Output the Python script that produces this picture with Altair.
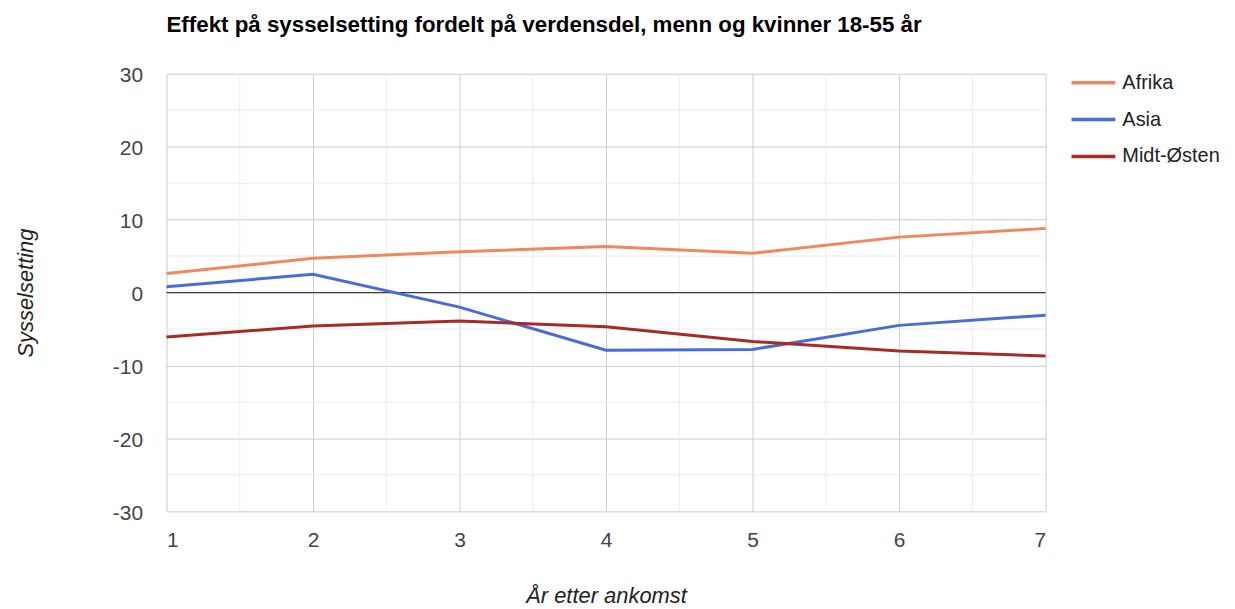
import altair as alt
import pandas as pd

years = [1, 2, 3, 4, 5, 6, 7]
series_names = ["Afrika", "Asia", "Midt-Østen"]
afrika = [2.6, 4.7, 5.6, 6.3, 5.4, 7.6, 8.8]
asia = [0.8, 2.5, -2.0, -7.9, -7.8, -4.5, -3.1]
midt_osten = [-6.1, -4.6, -3.9, -4.7, -6.7, -8.0, -8.7]
colors = ["#F0875E", "#4A6BD8", "#A62B26"]

y_ticks = [-30, -20, -10, 0, 10, 20, 30]
x_minor = [1.5, 2.5, 3.5, 4.5, 5.5, 6.5]
y_minor = [-25, -15, -5, 5, 15, 25]

FONT = "Liberation Sans"

rows = []
for name, vals in zip(series_names, [afrika, asia, midt_osten]):
    for yr, v in zip(years, vals):
        rows.append({"år": yr, "verdi": v, "serie": name})
df = pd.DataFrame(rows)

xscale = alt.Scale(domain=[1, 7], nice=False, zero=False)
yscale = alt.Scale(domain=[-30, 30], nice=False, zero=False)

lines = alt.Chart(df).mark_line(strokeWidth=3).encode(
    x=alt.X("år:Q", scale=xscale,
            axis=alt.Axis(values=years, title="År etter ankomst", grid=True,
                          gridColor="#cccccc", domain=False, ticks=False,
                          labelPadding=18, labelFontSize=21, labelColor="#444444",
                          labelFont=FONT, titleFont=FONT, titleFontSize=22,
                          titleFontStyle="italic", titleFontWeight="normal",
                          titleColor="#222222", titleX=441, titleY=91,
                          titleBaseline="alphabetic", format="d")),
    y=alt.Y("verdi:Q", scale=yscale,
            axis=alt.Axis(values=y_ticks, title="Sysselsetting", grid=True,
                          gridColor="#cccccc", domain=False, ticks=False,
                          labelPadding=24, labelFontSize=21, labelColor="#444444",
                          labelOffset=2, labelExpr="datum.value + ''",
                          labelFont=FONT, titleFont=FONT, titleFontSize=22,
                          titleFontStyle="italic", titleFontWeight="normal",
                          titleColor="#222222", titleX=-134, titleY=219.5,
                          titleAngle=270, titleBaseline="alphabetic")),
    color=alt.Color("serie:N",
                    scale=alt.Scale(domain=series_names, range=colors),
                    legend=alt.Legend(title=None, orient="none",
                                      legendX=906, legendY=-15,
                                      padding=0, symbolType="stroke",
                                      symbolSize=1936, symbolStrokeWidth=3.5,
                                      labelFontSize=20, labelFont=FONT,
                                      labelColor="#222222", labelOffset=5,
                                      rowPadding=3)),
)

vminor = alt.Chart(pd.DataFrame({"x": x_minor})).mark_rule(
    color="#ebebeb", strokeWidth=1).encode(x=alt.X("x:Q", scale=xscale))
hminor = alt.Chart(pd.DataFrame({"y": y_minor})).mark_rule(
    color="#ebebeb", strokeWidth=1).encode(y=alt.Y("y:Q", scale=yscale))
zero = alt.Chart(pd.DataFrame({"y": [0]})).mark_rule(
    color="#333333", strokeWidth=1).encode(y=alt.Y("y:Q", scale=yscale))

chart = alt.layer(vminor, hminor, zero, lines).properties(
    width=882, height=439,
    title=alt.TitleParams(
        "Effekt på sysselsetting fordelt på verdensdel, menn og kvinner 18-55 år",
        anchor="start", frame="group", font=FONT, fontSize=22.4,
        fontWeight="bold", color="#000000", offset=5, baseline="alphabetic"),
    autosize=alt.AutoSizeParams(type="none"),
    padding={"left": 159, "top": 65, "right": 182, "bottom": 96},
).configure_view(stroke=None)

chart.save("out.html", embed_options={"renderer": "svg", "actions": False})
